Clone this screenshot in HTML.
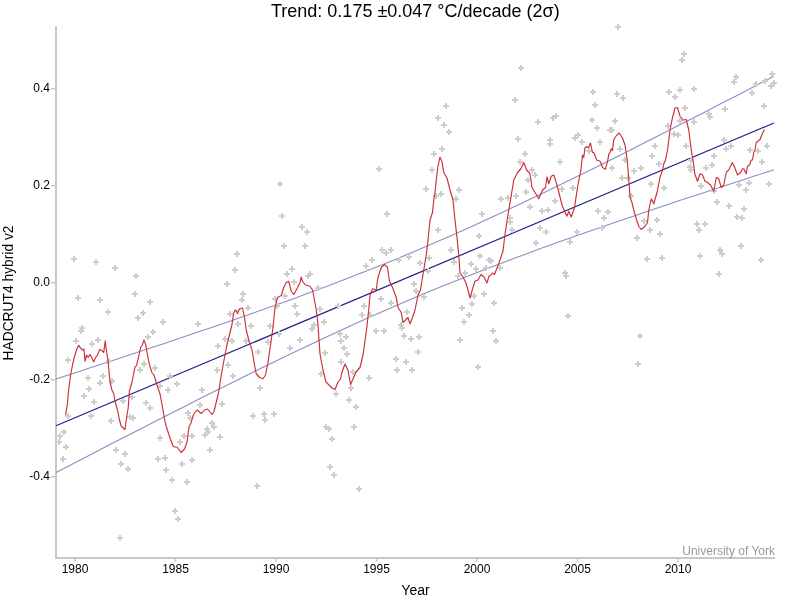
<!DOCTYPE html><html><head><meta charset="utf-8"><style>html,body{margin:0;padding:0;background:#fff;width:800px;height:600px;overflow:hidden}svg{display:block;will-change:transform}text{font-family:"Liberation Sans",sans-serif}</style></head><body>
<svg width="800" height="600" viewBox="0 0 800 600">
<rect width="800" height="600" fill="#fff"/>
<text x="271" y="17" font-size="18" fill="#000">Trend: 0.175 ±0.047 °C/decade (2σ)</text>
<path d="M56 26V558H775" fill="none" stroke="#c8c8c8" stroke-width="2"/>
<line x1="51" y1="88.75" x2="56" y2="88.75" stroke="#c8c8c8" stroke-width="1.5"/>
<text x="50" y="92.25" font-size="12" text-anchor="end" fill="#000">0.4</text>
<line x1="51" y1="185.75" x2="56" y2="185.75" stroke="#c8c8c8" stroke-width="1.5"/>
<text x="50" y="189.25" font-size="12" text-anchor="end" fill="#000">0.2</text>
<line x1="51" y1="282.75" x2="56" y2="282.75" stroke="#c8c8c8" stroke-width="1.5"/>
<text x="50" y="286.25" font-size="12" text-anchor="end" fill="#000">0.0</text>
<line x1="51" y1="379.75" x2="56" y2="379.75" stroke="#c8c8c8" stroke-width="1.5"/>
<text x="50" y="383.25" font-size="12" text-anchor="end" fill="#000">-0.2</text>
<line x1="51" y1="476.75" x2="56" y2="476.75" stroke="#c8c8c8" stroke-width="1.5"/>
<text x="50" y="480.25" font-size="12" text-anchor="end" fill="#000">-0.4</text>
<line x1="75.00" y1="558" x2="75.00" y2="562" stroke="#c8c8c8" stroke-width="1.5"/>
<text x="75.00" y="573" font-size="12" text-anchor="middle" fill="#000">1980</text>
<line x1="175.50" y1="558" x2="175.50" y2="562" stroke="#c8c8c8" stroke-width="1.5"/>
<text x="175.50" y="573" font-size="12" text-anchor="middle" fill="#000">1985</text>
<line x1="276.00" y1="558" x2="276.00" y2="562" stroke="#c8c8c8" stroke-width="1.5"/>
<text x="276.00" y="573" font-size="12" text-anchor="middle" fill="#000">1990</text>
<line x1="376.50" y1="558" x2="376.50" y2="562" stroke="#c8c8c8" stroke-width="1.5"/>
<text x="376.50" y="573" font-size="12" text-anchor="middle" fill="#000">1995</text>
<line x1="477.00" y1="558" x2="477.00" y2="562" stroke="#c8c8c8" stroke-width="1.5"/>
<text x="477.00" y="573" font-size="12" text-anchor="middle" fill="#000">2000</text>
<line x1="577.50" y1="558" x2="577.50" y2="562" stroke="#c8c8c8" stroke-width="1.5"/>
<text x="577.50" y="573" font-size="12" text-anchor="middle" fill="#000">2005</text>
<line x1="678.00" y1="558" x2="678.00" y2="562" stroke="#c8c8c8" stroke-width="1.5"/>
<text x="678.00" y="573" font-size="12" text-anchor="middle" fill="#000">2010</text>
<text x="415.5" y="595" font-size="14" text-anchor="middle" fill="#000">Year</text>
<text transform="translate(13,293) rotate(-90)" x="0" y="0" font-size="13.8" text-anchor="middle" fill="#000">HADCRUT4 hybrid v2</text>
<text x="775" y="555" font-size="12" text-anchor="end" fill="#999">University of York</text>
<polyline points="56.0,379.0 74.0,373.2 91.9,367.3 109.8,361.5 127.8,355.6 145.8,349.6 163.7,343.7 181.7,337.6 199.6,331.6 217.6,325.4 235.5,319.2 253.4,313.0 271.4,306.6 289.4,300.2 307.3,293.6 325.2,286.9 343.2,280.1 361.1,273.1 379.1,266.0 397.1,258.7 415.0,251.2 432.9,243.5 450.9,235.7 468.9,227.7 486.8,219.5 504.8,211.2 522.7,202.8 540.6,194.2 558.6,185.5 576.5,176.7 594.5,167.9 612.5,158.9 630.4,149.9 648.4,140.8 666.3,131.7 684.2,122.6 702.2,113.4 720.1,104.1 738.1,94.9 756.0,85.6 774.0,76.2" fill="none" stroke="#8c8cc6" stroke-width="1.1"/>
<polyline points="56.0,472.5 74.0,463.2 91.9,453.9 109.8,444.6 127.8,435.4 145.8,426.2 163.7,417.0 181.7,407.9 199.6,398.8 217.6,389.8 235.5,380.9 253.4,372.0 271.4,363.2 289.4,354.6 307.3,346.0 325.2,337.5 343.2,329.2 361.1,321.1 379.1,313.1 397.1,305.2 415.0,297.6 432.9,290.1 450.9,282.8 468.9,275.7 486.8,268.7 504.8,261.9 522.7,255.2 540.6,248.6 558.6,242.1 576.5,235.8 594.5,229.5 612.5,223.3 630.4,217.2 648.4,211.1 666.3,205.1 684.2,199.1 702.2,193.2 720.1,187.3 738.1,181.4 756.0,175.6 774.0,169.8" fill="none" stroke="#8c8cc6" stroke-width="1.1"/>
<line x1="56" y1="425.75" x2="774" y2="123.0" stroke="#20208a" stroke-width="1.2"/>
<path d="M71 259h6M74 256v6M93 262h6M96 259v6M112 268h6M115 265v6M133 276h6M136 273v6M234 254h6M237 251v6M232 270h6M235 267v6M224 284h6M227 281v6M75 298h6M78 295v6M97 300h6M100 297v6M132 294h6M135 291v6M147 302h6M150 299v6M105 312h6M108 309v6M140 313h6M143 310v6M135 318h6M138 315v6M160 322h6M163 319v6M79 328h6M82 325v6M78 331h6M81 328v6M150 332h6M153 329v6M145 337h6M148 334v6M73 341h6M76 338v6M95 340h6M98 337v6M89 344h6M92 341v6M65 360h6M68 357v6M106 361h6M109 358v6M141 364h6M144 361v6M137 370h6M140 367v6M152 368h6M155 365v6M85 378h6M88 375v6M100 376h6M103 373v6M97 383h6M100 380v6M109 381h6M112 378v6M86 389h6M89 386v6M81 396h6M84 393v6M91 402h6M94 399v6M157 386h6M160 383v6M165 390h6M168 387v6M174 384h6M177 381v6M167 376h6M170 373v6M120 401h6M123 398v6M143 403h6M146 400v6M147 408h6M150 405v6M195 324h6M198 321v6M227 314h6M230 311v6M235 324h6M238 321v6M222 339h6M225 336v6M229 341h6M232 338v6M215 346h6M218 343v6M214 370h6M217 367v6M225 365h6M228 362v6M230 376h6M233 373v6M199 390h6M202 387v6M219 404h6M222 401v6M197 405h6M200 402v6M129 397h6M132 394v6M65 416h6M68 413v6M88 416h6M91 413v6M108 421h6M111 418v6M127 417h6M130 414v6M130 418h6M133 415v6M57 436h6M60 433v6M61 432h6M64 429v6M56 442h6M59 439v6M63 447h6M66 444v6M60 459h6M63 456v6M113 450h6M116 447v6M122 454h6M125 451v6M118 464h6M121 461v6M125 469h6M128 466v6M117 538h6M120 535v6M157 438h6M160 435v6M155 459h6M158 456v6M162 458h6M165 455v6M163 470h6M166 467v6M169 480h6M172 477v6M184 482h6M187 479v6M179 464h6M182 461v6M189 460h6M192 457v6M177 442h6M180 439v6M181 436h6M184 433v6M189 436h6M192 433v6M185 413h6M188 410v6M187 418h6M190 415v6M172 511h6M175 508v6M175 519h6M178 516v6M202 435h6M205 432v6M205 432h6M208 429v6M204 429h6M207 426v6M209 423h6M212 420v6M211 427h6M214 424v6M217 437h6M220 434v6M207 450h6M210 447v6M277 184h6M280 181v6M279 216h6M282 213v6M299 227h6M302 224v6M304 232h6M307 229v6M281 246h6M284 243v6M302 246h6M305 243v6M289 269h6M292 266v6M376 169h6M379 166v6M384 214h6M387 211v6M379 250h6M382 247v6M383 253h6M386 250v6M388 250h6M391 247v6M369 260h6M372 257v6M363 266h6M366 263v6M396 260h6M399 257v6M406 257h6M409 254v6M431 154h6M434 151v6M429 170h6M432 167v6M423 189h6M426 186v6M435 230h6M438 227v6M426 258h6M429 255v6M417 263h6M420 260v6M425 271h6M428 268v6M284 274h6M287 271v6M307 274h6M310 271v6M305 276h6M308 273v6M240 294h6M243 291v6M239 300h6M242 297v6M245 308h6M248 305v6M248 326h6M251 323v6M272 299h6M275 296v6M282 296h6M285 293v6M291 282h6M294 279v6M292 306h6M295 303v6M294 314h6M297 311v6M274 306h6M277 303v6M267 326h6M270 323v6M276 334h6M279 331v6M265 342h6M268 339v6M297 340h6M300 337v6M287 348h6M290 345v6M255 352h6M258 349v6M243 341h6M246 338v6M317 309h6M320 306v6M321 322h6M324 319v6M309 329h6M312 326v6M311 325h6M314 322v6M315 288h6M318 285v6M335 306h6M338 303v6M337 334h6M340 331v6M343 337h6M346 334v6M338 341h6M341 338v6M341 348h6M344 345v6M344 354h6M347 351v6M322 353h6M325 350v6M338 362h6M341 359v6M318 374h6M321 371v6M350 372h6M353 369v6M366 378h6M369 375v6M373 331h6M376 328v6M381 331h6M384 328v6M359 315h6M362 312v6M361 306h6M364 303v6M378 299h6M381 296v6M388 303h6M391 300v6M367 315h6M370 312v6M411 284h6M414 281v6M413 291h6M416 288v6M404 312h6M407 309v6M398 325h6M401 322v6M399 328h6M402 325v6M401 336h6M404 333v6M408 339h6M411 336v6M416 337h6M419 334v6M415 352h6M418 349v6M393 359h6M396 356v6M403 362h6M406 359v6M394 370h6M397 367v6M409 370h6M412 367v6M421 297h6M424 294v6M257 388h6M260 385v6M333 394h6M336 391v6M348 388h6M351 385v6M346 400h6M349 397v6M353 407h6M356 404v6M250 416h6M253 413v6M261 414h6M264 411v6M262 420h6M265 417v6M271 414h6M274 411v6M323 427h6M326 424v6M326 429h6M329 426v6M351 427h6M354 424v6M329 439h6M332 436v6M327 467h6M330 464v6M331 475h6M334 472v6M254 486h6M257 483v6M356 489h6M359 486v6M435 118h6M438 115v6M615 27h6M618 24v6M518 68h6M521 65v6M512 100h6M515 97v6M590 92h6M593 89v6M592 105h6M595 102v6M614 94h6M617 91v6M620 98h6M623 95v6M443 106h6M446 103v6M441 125h6M444 122v6M446 132h6M449 129v6M439 149h6M442 146v6M535 122h6M538 119v6M550 118h6M553 115v6M553 116h6M556 113v6M515 139h6M518 136v6M547 140h6M550 137v6M547 144h6M550 141v6M522 154h6M525 151v6M557 162h6M560 159v6M589 120h6M592 117v6M594 128h6M597 125v6M612 121h6M615 118v6M607 130h6M610 127v6M609 130h6M612 127v6M572 138h6M575 135v6M575 135h6M578 132v6M579 142h6M582 139v6M597 142h6M600 139v6M617 149h6M620 146v6M586 151h6M589 148v6M622 160h6M625 157v6M517 162h6M520 159v6M433 196h6M436 193v6M438 194h6M441 191v6M456 190h6M459 187v6M453 199h6M456 196v6M479 214h6M482 211v6M476 236h6M479 233v6M448 250h6M451 247v6M451 262h6M454 259v6M477 256h6M480 253v6M486 260h6M489 257v6M488 261h6M491 258v6M468 264h6M471 261v6M473 269h6M476 266v6M462 273h6M465 270v6M483 268h6M486 265v6M497 268h6M500 265v6M455 276h6M458 273v6M481 294h6M484 291v6M471 296h6M474 293v6M529 170h6M532 167v6M532 175h6M535 172v6M525 180h6M528 177v6M513 196h6M516 193v6M523 192h6M526 189v6M498 199h6M501 196v6M505 198h6M508 195v6M527 207h6M530 204v6M552 201h6M555 198v6M559 189h6M562 186v6M570 188h6M573 185v6M539 211h6M542 208v6M545 210h6M548 207v6M507 218h6M510 215v6M507 222h6M510 219v6M537 228h6M540 225v6M543 232h6M546 229v6M509 230h6M512 227v6M533 243h6M536 240v6M567 242h6M570 239v6M574 232h6M577 229v6M595 211h6M598 208v6M605 212h6M608 209v6M601 218h6M604 215v6M599 228h6M602 225v6M562 273h6M565 270v6M563 276h6M566 273v6M609 168h6M612 165v6M619 178h6M622 175v6M469 304h6M472 301v6M459 308h6M462 305v6M491 303h6M494 300v6M466 315h6M469 312v6M461 322h6M464 319v6M490 331h6M493 328v6M493 341h6M496 338v6M457 340h6M460 337v6M475 367h6M478 364v6M565 316h6M568 313v6M681 54h6M684 51v6M679 60h6M682 57v6M733 77h6M736 74v6M731 82h6M734 79v6M769 74h6M772 71v6M768 86h6M771 83v6M771 83h6M774 80v6M749 93h6M752 90v6M762 81h6M765 78v6M753 84h6M756 81v6M666 92h6M669 89v6M677 90h6M680 87v6M672 97h6M675 94v6M691 89h6M694 86v6M682 108h6M685 105v6M722 109h6M725 106v6M761 106h6M764 103v6M706 114h6M709 111v6M707 117h6M710 114v6M665 126h6M668 123v6M677 121h6M680 118v6M691 122h6M694 119v6M671 134h6M674 131v6M675 135h6M678 132v6M652 146h6M655 143v6M683 146h6M686 143v6M721 140h6M724 137v6M723 149h6M726 146v6M728 146h6M731 143v6M649 156h6M652 153v6M711 156h6M714 153v6M747 150h6M750 147v6M755 151h6M758 148v6M764 146h6M767 143v6M656 164h6M659 161v6M638 168h6M641 165v6M688 160h6M691 157v6M709 165h6M712 162v6M703 168h6M706 165v6M759 162h6M762 159v6M631 171h6M634 168v6M625 178h6M628 175v6M648 184h6M651 181v6M661 188h6M664 185v6M628 196h6M631 193v6M641 221h6M644 218v6M654 220h6M657 217v6M647 230h6M650 227v6M657 234h6M660 231v6M634 238h6M637 235v6M687 167h6M690 164v6M688 170h6M691 167v6M698 186h6M701 183v6M711 191h6M714 188v6M714 202h6M717 199v6M726 206h6M729 203v6M736 185h6M739 182v6M746 183h6M749 180v6M743 190h6M746 187v6M741 209h6M744 206v6M734 217h6M737 214v6M739 218h6M742 215v6M766 184h6M769 181v6M694 224h6M697 221v6M702 224h6M705 221v6M696 230h6M699 227v6M738 246h6M741 243v6M717 250h6M720 247v6M719 254h6M722 251v6M697 256h6M700 253v6M758 260h6M761 257v6M644 259h6M647 256v6M659 258h6M662 255v6M716 274h6M719 271v6M637 336h6M640 333v6M635 364h6M638 361v6" fill="none" stroke="#cdcdcd" stroke-width="2"/>
<polyline points="65.50,415.00 67.25,405.00 68.75,388.75 70.60,375.00 72.50,365.00 74.40,356.90 76.90,348.75 78.75,345.25 80.60,348.10 82.50,350.00 84.00,349.00 85.00,361.25 86.50,355.00 88.10,357.50 90.00,354.40 91.90,358.10 93.75,361.90 95.60,357.50 97.50,355.00 99.75,349.40 101.90,350.60 103.75,352.50 105.17,340.82 106.50,351.25 108.10,361.25 109.88,381.25 111.90,390.00 113.75,393.75 115.30,402.50 117.50,410.00 119.50,420.00 121.25,426.25 125.00,429.50 126.25,420.00 128.25,407.50 129.40,391.25 131.90,382.50 135.00,366.90 136.50,365.60 138.75,356.25 140.60,347.50 142.25,345.00 144.00,340.00 145.60,344.40 147.50,355.00 149.40,364.40 151.90,372.50 154.00,375.00 156.25,382.50 158.10,388.75 160.00,393.75 165.50,424.00 169.00,435.00 173.00,446.00 174.50,447.00 177.00,447.00 181.00,452.50 184.50,449.00 187.00,442.00 189.00,427.00 191.00,423.00 193.50,414.50 197.00,410.00 201.50,413.50 204.50,410.00 207.50,409.00 212.00,414.50 214.00,411.50 218.00,395.00 219.00,390.00 221.25,375.00 223.10,365.00 225.00,355.00 226.90,345.00 229.40,335.00 231.90,325.00 233.50,313.75 235.25,310.00 236.50,311.25 237.50,313.50 238.75,310.00 240.00,308.75 242.50,308.00 244.50,317.50 246.25,330.00 248.75,340.00 252.00,350.00 254.50,365.00 256.25,373.75 259.50,377.50 263.00,378.75 265.50,375.00 268.00,362.50 270.50,345.00 273.00,327.50 275.00,307.50 277.50,297.50 281.25,295.50 283.75,287.50 286.25,282.50 288.75,281.25 291.25,291.25 293.75,294.50 297.00,288.75 300.00,282.50 301.25,277.00 302.50,281.25 305.50,285.00 310.00,286.25 312.50,290.00 314.50,300.00 316.25,310.00 318.00,325.00 320.00,354.00 323.00,370.00 326.00,382.00 329.00,385.00 332.00,388.00 335.00,389.50 338.00,382.00 340.50,379.00 342.00,372.00 345.00,364.00 348.00,370.00 350.50,384.50 353.00,379.00 356.00,372.00 360.00,367.50 363.00,355.00 366.50,330.00 368.75,310.00 370.00,295.00 372.50,288.75 376.25,290.00 377.50,280.00 378.75,275.00 381.25,267.50 384.50,264.50 387.50,267.50 389.50,281.25 392.50,287.50 396.25,297.50 398.00,307.50 401.25,312.50 403.00,322.50 405.50,320.00 408.00,317.50 410.00,323.75 412.50,317.50 415.00,310.00 418.00,295.00 420.50,290.00 422.50,277.50 426.25,255.00 427.50,245.00 430.00,220.00 432.50,212.50 433.75,200.00 435.00,192.50 436.25,180.00 437.75,167.50 440.00,157.12 442.00,161.88 443.75,172.50 447.00,178.00 450.00,190.00 453.00,200.00 455.00,220.00 457.00,237.50 458.75,255.00 460.00,273.00 463.00,277.00 466.00,283.00 468.00,290.00 470.00,298.00 472.00,291.00 475.00,281.00 478.00,280.00 481.00,274.50 484.00,277.00 487.00,283.00 489.00,276.00 491.00,275.00 492.50,273.00 494.50,274.50 497.00,268.00 500.00,260.00 503.00,251.00 504.75,236.25 507.50,217.50 510.50,200.00 513.75,180.00 517.50,172.50 520.88,168.75 523.75,162.50 526.62,170.00 530.00,173.75 532.00,187.50 535.00,192.50 538.75,198.75 542.50,190.00 545.50,187.50 547.00,177.00 548.75,183.75 551.25,176.25 553.75,175.00 556.25,182.50 559.50,195.00 562.00,205.00 564.50,211.25 567.00,216.25 568.75,211.25 571.25,217.00 574.50,207.50 577.50,187.50 580.88,170.00 582.50,155.00 583.75,157.50 585.00,147.50 586.62,146.88 588.75,147.50 590.50,143.00 592.50,152.50 593.75,152.50 596.62,160.00 600.00,161.25 601.25,163.75 602.50,167.50 605.25,169.38 607.50,161.88 608.75,154.38 610.00,152.50 611.25,148.75 612.50,150.62 613.75,140.00 615.00,137.50 617.00,135.00 619.12,133.00 622.25,137.50 625.00,145.00 627.06,158.44 628.75,178.44 630.00,197.50 632.00,202.50 633.75,210.00 636.25,218.75 638.75,226.25 641.25,229.50 645.00,226.25 647.50,222.50 648.75,210.00 651.25,198.75 653.75,203.75 657.00,192.50 660.00,177.50 662.50,170.00 663.75,163.75 665.50,160.00 667.75,148.75 670.00,130.00 672.50,117.50 675.00,108.00 677.50,107.50 680.00,116.25 683.00,120.00 686.25,119.50 688.75,130.00 691.25,150.00 693.38,162.50 694.75,173.75 697.50,181.25 700.00,173.75 702.50,175.00 705.00,181.25 707.50,182.50 710.50,185.00 713.75,191.25 716.25,177.50 718.75,178.75 721.25,187.50 723.75,185.00 726.25,172.50 729.12,169.38 732.25,162.50 735.00,168.12 737.50,175.00 740.50,172.50 742.50,168.75 743.75,168.75 746.25,173.75 747.50,166.25 749.50,165.00 751.25,160.00 752.50,160.00 753.75,152.50 755.00,150.00 756.25,142.50 760.00,139.50 762.00,134.50 764.50,129.50" fill="none" stroke="#cc2e36" stroke-width="1.15" stroke-linejoin="round"/>
</svg></body></html>
